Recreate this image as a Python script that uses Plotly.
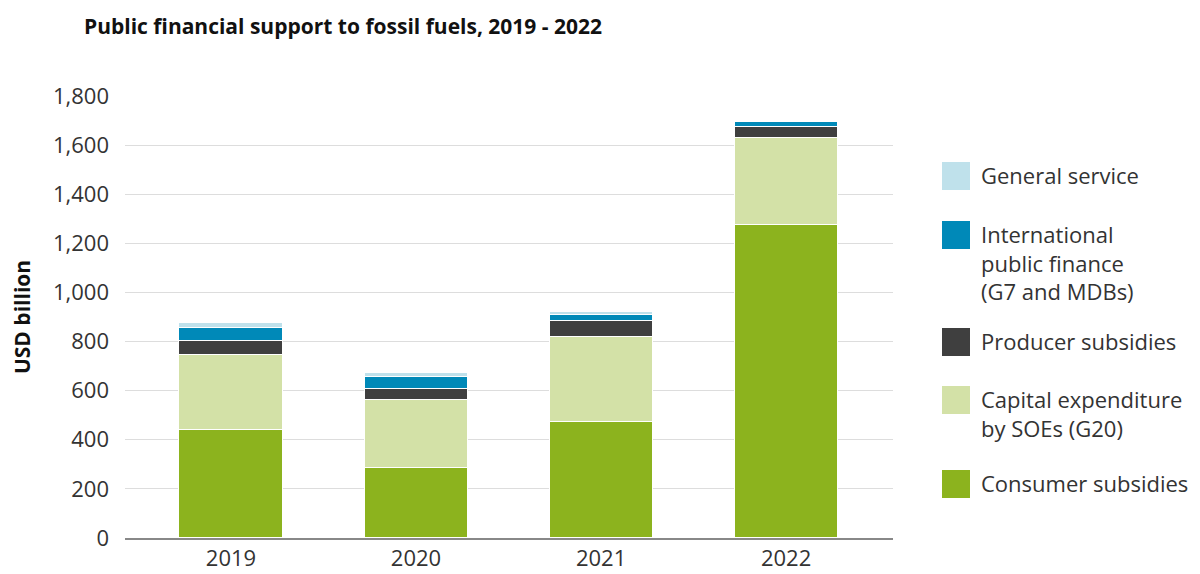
import plotly.graph_objects as go

years = ["2019", "2020", "2021", "2022"]
consumer = [440, 285, 474, 1275]
capex = [305, 277, 346, 353]
producer = [58, 43, 65, 47]
intl = [51, 49, 23, 20]
general = [23, 17, 13, 3]

series = [
    ("Consumer subsidies", consumer, "#8cb31e"),
    ("Capital expenditure<br>by SOEs (G20)", capex, "#d3e1a7"),
    ("Producer subsidies", producer, "#3f3f3f"),
    ("International<br>public finance<br>(G7 and MDBs)", intl, "#0089b8"),
    ("General service", general, "#bfe1eb"),
]

xpos = list(range(len(years)))
fig = go.Figure()
for name, vals, col in series:
    fig.add_trace(go.Bar(x=xpos, y=vals, name=name, marker=dict(color=col, line=dict(color="white", width=1)),
                         width=0.557, showlegend=False))

# manual legend (top to bottom); y centres in page pixels
leg_items = [
    ("General service", "#bfe1eb", 176),
    ("International<br>public finance<br>(G7 and MDBs)", "#0089b8", 235),
    ("Producer subsidies", "#3f3f3f", 342),
    ("Capital expenditure<br>by SOEs (G20)", "#d3e1a7", 400),
    ("Consumer subsidies", "#8cb31e", 484),
]
OFF = 8  # browser default body margin
W = 1200 - OFF
H = 574 - OFF
for text, col, yc in leg_items:
    fig.add_shape(type="rect", xref="paper", yref="paper",
                  x0=(942 - 125) / 768, x1=(970 - 125) / 768,
                  y0=(538 - (yc + 14)) / 442, y1=(538 - (yc - 14)) / 442,
                  fillcolor=col, line=dict(width=0))
    fig.add_annotation(xref="paper", yref="paper", x=(979 - 125) / 768, y=(538 - (yc - 18)) / 442,
                       text=text, showarrow=False, xanchor="left", yanchor="top", align="left",
                       font=dict(family="Open Sans", size=22, color="#333333"))

fig.update_layout(
    width=W, height=H,
    paper_bgcolor="white", plot_bgcolor="white",
    margin=dict(l=125 - OFF, r=W - (893 - OFF), t=96 - OFF, b=H - (538 - OFF)),
    barmode="stack",
    bargap=0,
    title=dict(text="<b>Public financial support to fossil fuels, 2019 - 2022</b>",
               x=(84 - OFF) / W, xanchor="left", y=1 - (27 - OFF) / H, yanchor="middle",
               font=dict(family="Open Sans", size=21, color="#111111")),
    xaxis=dict(range=[-0.573, 3.578], tickmode="array", tickvals=xpos, ticktext=years,
               showgrid=False, showline=True, linecolor="#888888", linewidth=1.5, ticks="",
               automargin=False,
               tickfont=dict(family="Open Sans", size=22, color="#333333"), zeroline=False),
    yaxis=dict(range=[0, 1800], dtick=200, tickformat=",", showgrid=True, gridcolor="#dddddd",
               gridwidth=1, zeroline=False, showline=False, ticks="", ticklabelstandoff=15,
               automargin=False,
               tickfont=dict(family="Open Sans", size=22, color="#333333"),
               title=dict(text="<b>USD billion</b>", standoff=18,
                          font=dict(family="Open Sans", size=21, color="#111111"))),
)

fig.write_html("out.html")
